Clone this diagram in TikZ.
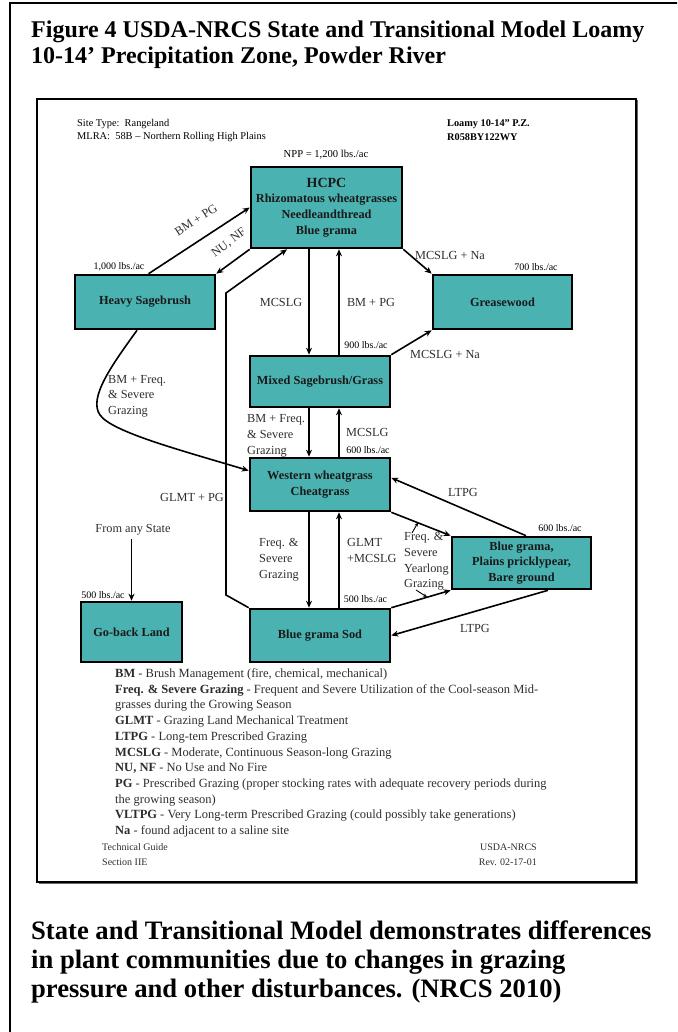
\documentclass[tikz,border=0pt]{standalone}
\usepackage{fontspec}
\setmainfont{Liberation Serif}
\usetikzlibrary{arrows.meta,calc}
\definecolor{tealfill}{RGB}{74,178,176}
\definecolor{labgray}{RGB}{45,45,45}
\begin{document}
\begin{tikzpicture}[x=1pt,y=-1pt,
  state/.style={draw=black, line width=2.6pt, fill=tealfill, inner sep=0pt, align=center,
    font=\fontsize{12.3}{15.6}\selectfont\bfseries, text=black!90},
  arr/.style={line width=1.6pt, -{Stealth[length=7pt,width=6pt]}},
  tinyarr/.style={line width=0.9pt, -{Stealth[length=4pt,width=3.5pt]}},
  lab/.style={font=\fontsize{12.3}{15.7}\selectfont, text=labgray, inner sep=0pt, align=left},
  small/.style={font=\fontsize{10}{12}\selectfont, text=black, inner sep=0pt},
  hdr/.style={font=\fontsize{10.4}{13}\selectfont, text=black, inner sep=0pt}]
\useasboundingbox (0,0) rectangle (677,1032);
\begin{scope}
\clip (0,0) rectangle (677,1032);
\draw[line width=2pt] (10,3.5) rectangle (700,1060);
\end{scope}
% inner frame
\draw[line width=1.5pt] (37,99) rectangle (636,882);
\draw[line width=1pt, black!60] (38.5,883.6) -- (637.6,883.6) -- (637.6,100.5);

% title
\node[anchor=north west, inner sep=0pt, align=left, font=\fontsize{24}{26}\selectfont\bfseries] (title) at (31,20.6)
  {Figure 4 USDA-NRCS State and Transitional Model Loamy\\10-14’ Precipitation Zone, Powder River};

% header
\node[hdr, anchor=west] (site) at (77,124) {Site Type:\ \ Rangeland};
\node[hdr, anchor=west] (mlra) at (77,137) {MLRA:\ \ 58B – Northern Rolling High Plains};
\node[hdr, anchor=west, font=\fontsize{10.3}{13}\selectfont\bfseries] (loamy) at (447,124) {Loamy 10-14" P.Z.};
\node[hdr, anchor=west, font=\fontsize{10.3}{13}\selectfont\bfseries] (code) at (447,137) {R058BY122WY};
\node[small, font=\fontsize{10.6}{12}\selectfont] (npp) at (326,155) {NPP = 1,200 lbs./ac};

% states
\node[state, minimum width=151pt, minimum height=81pt] (hcpc) at (326.5,207.5)
  {{\fontsize{14}{16}\selectfont HCPC}\\Rhizomatous wheatgrasses\\Needleandthread\\Blue grama};
\node[state, minimum width=140pt, minimum height=54pt] (hs) at (145,302) {Heavy Sagebrush};
\node[state, minimum width=139pt, minimum height=54pt] (gw) at (502.5,302) {Greasewood};
\node[state, minimum width=140pt, minimum height=51pt] (mix) at (320,381.5) {Mixed Sagebrush/Grass};
\node[state, minimum width=140pt, minimum height=53pt] (ww) at (320,484.5) {Western wheatgrass\\Cheatgrass};
\node[state, minimum width=139pt, minimum height=52pt] (bg) at (521.5,563) {Blue grama,\\Plains pricklypear,\\Bare ground};
\node[state, minimum width=140pt, minimum height=53pt] (sod) at (320,635.5) {Blue grama Sod};
\node[state, minimum width=101pt, minimum height=60pt] (gb) at (131.5,632) {Go-back Land};

% production labels
\node[small] (p1) at (119,267) {1,000 lbs./ac};
\node[small] (p2) at (536,267) {700 lbs./ac};
\node[small] (p3) at (366,345) {900 lbs./ac};
\node[small] (p4) at (368,450) {600 lbs./ac};
\node[small] (p5) at (560,528) {600 lbs./ac};
\node[small] (p6) at (365.5,599) {500 lbs./ac};
\node[small] (p7) at (103,595) {500 lbs./ac};

% connectors
\draw[arr] (148.6,0 |- hs.north) -- (hcpc.west);
\draw[arr] (hcpc.south west) -- (hs.north east);
\coordinate (g1) at (226,595);
\coordinate (g2) at (226,293);
\draw[arr] (sod.north west) -- (g1) -- (g2) -- (287,0 |- hcpc.south);
\draw[arr] (309,0 |- hcpc.south) -- (309,0 |- mix.north);
\draw[arr] (339,0 |- mix.north) -- (339,0 |- hcpc.south);
\draw[arr] (hcpc.south east) -- (gw.north west);
\draw[arr] (mix.north east) -- (gw.south west);
\coordinate (cv) at (100,415);
\draw[arr] (137,0 |- hs.south) .. controls (112,365) and (88,398) .. (cv)
  .. controls (112,432) and (180,450) .. ($(ww.north west)!0.25!(ww.south west)$);
\draw[arr] (309,0 |- mix.south) -- (309,0 |- ww.north);
\draw[arr] (339,0 |- ww.north) -- (339,0 |- mix.south);
\draw[arr] (309,0 |- ww.south) -- (309,0 |- sod.north);
\draw[arr] (339,0 |- sod.north) -- (339,0 |- ww.south);
\draw[arr] (ww.south east) -- (bg.north west);
\draw[arr] (sod.north east) -- (bg.south west);
\draw[arr] (526,0 |- bg.north) -- ($(ww.north east)!0.38!(ww.south east)$);
\draw[arr] (548,0 |- bg.south) -- (sod.east);
\coordinate (s1a) at (412,533);
\coordinate (s1b) at (418,522.5);
\draw[tinyarr] (s1a) -- (s1b);
\coordinate (s2a) at (416,590);
\coordinate (s2b) at (427,597);
\draw[tinyarr] (s2a) -- (s2b);
\node[lab] (fas) at (133,530) {From any State};
\draw[arr] (gb.north |- fas.south) ++(0,3) -- (gb.north);

% transition labels
\node[lab, rotate=33] (l1) at (196,220) {BM + PG};
\node[lab, rotate=37] (l2) at (229,243) {NU, NF};
\node[lab] (l3) at (281,302) {MCSLG};
\node[lab] (l4) at (371,302) {BM + PG};
\node[lab] (l5) at (450,255) {MCSLG + Na};
\node[lab] (l6) at (445,354) {MCSLG + Na};
\node[lab, anchor=north west] (l7) at (108,375) {BM + Freq.\\\& Severe\\Grazing};
\node[lab, anchor=north west] (l8) at (247,414.5) {BM + Freq.\\\& Severe\\Grazing};
\node[lab, anchor=west] (l9) at (346,432) {MCSLG};
\node[lab] (l10) at (192,497) {GLMT + PG};
\node[lab] (l11) at (463,492) {LTPG};
\node[lab, anchor=north west] (l12) at (259,538.5) {Freq. \&\\Severe\\Grazing};
\node[lab, anchor=north west] (l13) at (347,538.5) {GLMT\\+MCSLG};
\node[lab, anchor=north west] (l14) at (404,532.5) {Freq. \&\\Severe\\Yearlong\\Grazing};
\node[lab] (l15) at (475,628) {LTPG};

% legend
\node[anchor=north west, inner sep=0pt, align=left, font=\fontsize{12.5}{15.7}\selectfont, text=labgray] (legend) at (115,668.5)
  {\textbf{BM} - Brush Management (fire, chemical, mechanical)\\
   \textbf{Freq. \& Severe Grazing} - Frequent and Severe Utilization of the Cool-season Mid-\\
   grasses during the Growing Season\\
   \textbf{GLMT} - Grazing Land Mechanical Treatment\\
   \textbf{LTPG} - Long-tem Prescribed Grazing\\
   \textbf{MCSLG} - Moderate, Continuous Season-long Grazing\\
   \textbf{NU, NF} - No Use and No Fire\\
   \textbf{PG} - Prescribed Grazing (proper stocking rates with adequate recovery periods during\\
   the growing season)\\
   \textbf{VLTPG} - Very Long-term Prescribed Grazing (could possibly take generations)\\
   \textbf{Na} - found adjacent to a saline site};
\node[anchor=north west, inner sep=0pt, align=left, font=\fontsize{10}{15}\selectfont, text=labgray] (footl) at (102,843.5)
  {Technical Guide\\Section IIE};
\node[anchor=north east, inner sep=0pt, align=right, font=\fontsize{10}{15}\selectfont, text=labgray] (footr) at (537,843.5)
  {USDA-NRCS\\Rev. 02-17-01};

% caption
\node[anchor=north west, inner sep=0pt, align=left, font=\fontsize{26.6}{29}\selectfont\bfseries] (caption) at (31,920.8)
  {State and Transitional Model demonstrates differences\\in plant communities due to changes in grazing\\pressure and other disturbances. (NRCS 2010)};
\end{tikzpicture}
\end{document}
